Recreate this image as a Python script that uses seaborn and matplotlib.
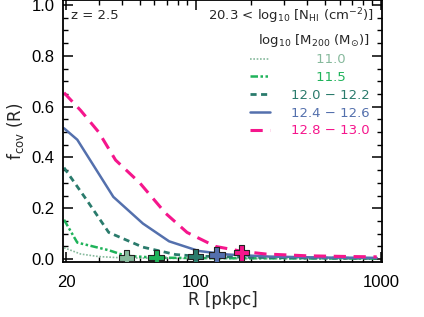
import numpy as np
import pandas as pd
import seaborn as sns
import matplotlib.pyplot as plt
from matplotlib.ticker import FixedLocator, NullFormatter, MultipleLocator

# covering fraction profiles, one per halo mass bin
labels = ['11.0', '11.5', '12.0 \u2212 12.2', '12.4 \u2212 12.6', '12.8 \u2212 13.0']
colors = ['#86b99c', '#1fb35a', '#2a7b6c', '#5470ad', '#f5168c']

r_110 = [19.5, 24, 30, 40, 70, 200, 950]
f_110 = [0.045, 0.02, 0.01, 0.005, 0.003, 0.002, 0.002]

r_115 = [19.5, 23, 34, 42, 60, 100, 300, 950]
f_115 = [0.155, 0.065, 0.035, 0.013, 0.006, 0.004, 0.003, 0.002]

r_120 = [19.5, 26, 34, 52, 78, 100, 200, 500, 950]
f_120 = [0.36, 0.23, 0.105, 0.047, 0.018, 0.012, 0.007, 0.004, 0.003]

r_124 = [19.5, 23, 36, 52, 72, 104, 150, 250, 500, 950]
f_124 = [0.515, 0.47, 0.245, 0.14, 0.07, 0.032, 0.018, 0.01, 0.006, 0.005]

r_128 = [19.5, 24, 30, 37, 50, 69, 90, 128, 180, 240, 400, 700, 950]
f_128 = [0.655, 0.585, 0.50, 0.39, 0.30, 0.18, 0.105, 0.05, 0.03, 0.02, 0.013, 0.01, 0.009]

# median virial radius of each bin
r_vir = [42.4, 61.4, 100, 130, 177]
f_vir = [0.004, 0.005, 0.009, 0.016, 0.025]

profiles = [(r_110, f_110), (r_115, f_115), (r_120, f_120), (r_124, f_124), (r_128, f_128)]
styles = [
    dict(linestyle=(0, (1, 1)), linewidth=1.2),
    dict(linestyle=(0, (3, 1, 1, 1, 1, 1)), linewidth=1.8),
    dict(linestyle=(0, (2.2, 1.6)), linewidth=2.0),
    dict(linestyle='-', linewidth=1.8),
    dict(linestyle=(0, (4, 2.5)), linewidth=2.2),
]

sns.set_style('ticks')
plt.rcParams['font.family'] = ['DejaVu Sans']
plt.rcParams['mathtext.fontset'] = 'dejavusans'

fig = plt.figure(figsize=(4.24, 3.17), dpi=100)
ax = fig.add_axes([0.149, 0.173, 0.752, 0.827])

for (r, f), lab, col, st in zip(profiles, labels, colors, styles):
    df = pd.DataFrame({'R': r, 'f': f})
    sns.lineplot(data=df, x='R', y='f', color=col, ax=ax, **st)

vir = pd.DataFrame({'R': r_vir, 'f': f_vir, 'bin': labels})
sns.scatterplot(data=vir, x='R', y='f', hue='bin', palette=colors, marker='P',
                s=130, edgecolor='#222222', linewidth=0.8, legend=False, ax=ax, zorder=5)

ax.set_xscale('log')
ax.set_xlim(19.3, 1015)
ax.set_ylim(-0.012, 1.02)
ax.xaxis.set_major_locator(FixedLocator([20, 100, 1000]))
ax.xaxis.set_major_formatter(plt.FixedFormatter(['20', '100', '1000']))
ax.xaxis.set_minor_locator(FixedLocator([30, 40, 50, 60, 70, 80, 90, 200, 300, 400, 500, 600, 700, 800, 900]))
ax.xaxis.set_minor_formatter(NullFormatter())
ax.yaxis.set_minor_locator(MultipleLocator(0.05))
ax.set_yticks([0.0, 0.2, 0.4, 0.6, 0.8, 1.0])
ax.set_yticklabels(['0.0', '0.2', '0.4', '0.6', '0.8', '1.0'])
ax.tick_params(which='both', direction='in', top=True, right=True, colors='black', labelsize=12)
ax.tick_params(which='major', length=7, width=1.1, pad=6)
ax.tick_params(axis='x', which='major', pad=9)
ax.tick_params(which='minor', length=3.5, width=1.0)
for lbl in ax.get_xticklabels() + ax.get_yticklabels():
    lbl.set_family(['Liberation Sans', 'DejaVu Sans'])
for sp in ax.spines.values():
    sp.set_linewidth(1.3)
    sp.set_color('black')

ax.set_xlabel('R [pkpc]', fontsize=12, labelpad=1)
ax.set_ylabel(r'f$_{\mathrm{cov}}$ (R)', fontsize=12, labelpad=4)

ax.text(0.025, 0.94, 'z = 2.5', transform=ax.transAxes, fontsize=9.5, va='center')
ax.text(0.975, 0.94, r'20.3 < log$_{10}$ [N$_{\mathrm{HI}}$ (cm$^{-2}$)]',
        transform=ax.transAxes, fontsize=9.5, ha='right', va='center')

# legend: handles on the left, centered coloured labels
pad = '\u2007\u2007\u2007'
handles = ax.get_lines()[:5]
leg_labels = [pad + labels[0], pad + labels[1]] + labels[2:]
leg = ax.legend(handles, leg_labels, loc='upper right', bbox_to_anchor=(0.99, 0.915), frameon=False,
                title=r'log$_{10}$ [M$_{200}$ (M$_{\odot}$)]', title_fontsize=9.5,
                fontsize=9.5, handlelength=1.5, handletextpad=1.6, labelspacing=0.36,
                borderaxespad=0.3, alignment='right')
for txt, col in zip(leg.get_texts(), colors):
    txt.set_color(col)

fig.savefig('out.png', dpi=100)
